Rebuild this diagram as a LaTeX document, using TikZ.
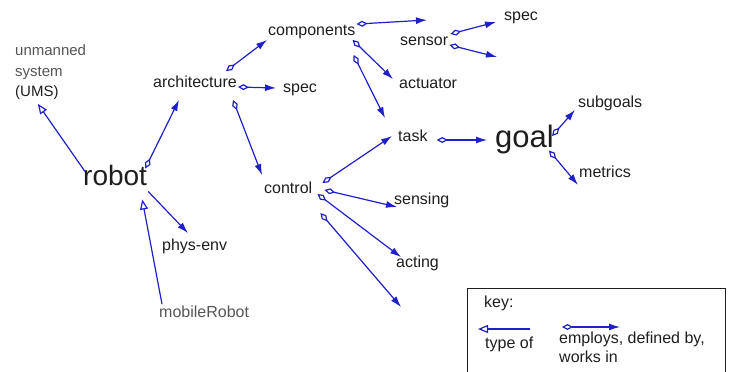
\documentclass[tikz,border=0pt]{standalone}
\usepackage{fontspec}
\setmainfont{Liberation Sans}
\usetikzlibrary{arrows.meta}
\definecolor{cA}{HTML}{2020C8}
\definecolor{cInk}{HTML}{1E1E1E}
\definecolor{cGrey}{HTML}{555555}
\tikzset{
  lbl/.style={anchor=west,inner sep=1pt,text=cInk,font=\fontsize{16}{19}\selectfont,
              text height=12pt,text depth=3.4pt},
  big/.style={lbl,font=\fontsize{28}{32}\selectfont,text height=21pt,text depth=5.6pt},
  rel/.style={draw=cA,line width=1.2pt,
              {Diamond[open,length=11pt,width=6pt]}-{Latex[length=11pt,width=7pt]}},
  uses/.style={draw=cA,line width=1.2pt,-{Latex[length=11pt,width=7pt]}},
  isa/.style={draw=cA,line width=1.2pt,-{Triangle[open,length=10pt,width=8pt]}},
  keyframe/.style={draw=cInk,line width=1pt},
}
\begin{document}
\begin{tikzpicture}[x=1pt,y=-1pt]
  \useasboundingbox (0,0) rectangle (732,372);
  % concepts
  \node[lbl,text=cGrey,font=\fontsize{15}{18}\selectfont] (umsA) at (14,51) {unmanned};
  \node[lbl,text=cGrey,font=\fontsize{15}{18}\selectfont] (umsB) at (14,72) {system};
  \node[lbl,font=\fontsize{15}{18}\selectfont] (ums) at (14,92) {(UMS)};
  \node[big] (robot) at (82,178) {robot};
  \node[lbl] (arch) at (152,83) {architecture};
  \node[lbl] (comp) at (267,31) {components};
  \node[lbl] (archspec) at (282,88) {spec};
  \node[lbl] (sensor) at (399,41) {sensor};
  \node[lbl] (sensspec) at (503,16) {spec};
  \node[lbl] (actuator) at (398,84) {actuator};
  \node[lbl] (task) at (397,137) {task};
  \node[big,font=\fontsize{31}{35}\selectfont] (goal) at (494,140) {goal};
  \node[lbl] (subgoals) at (577,103) {subgoals};
  \node[lbl] (metrics) at (578,173) {metrics};
  \node[lbl] (control) at (263,189) {control};
  \node[lbl] (sensing) at (393,200) {sensing};
  \node[lbl] (physenv) at (161,246) {phys-env};
  \node[lbl] (acting) at (395,263) {acting};
  \node[lbl,text=cGrey] (mobile) at (158,313) {mobileRobot};
  \coordinate (compfree) at (427,20);
  \coordinate (sensfree) at (497,57);
  \coordinate (ctrlfree) at (401,307);
  % relations
  \draw[isa] ([shift={(3,8)}]robot.north west) -- ([shift={(1,3)}]ums.south);
  \draw[rel] ([shift={(-3,5)}]robot.north east) -- ([shift={(27,8)}]arch.south west);
  \draw[uses] ([shift={(0,-1)}]robot.south east) -- ([shift={(27,-4)}]physenv.north west);
  \draw[isa] ([shift={(4,0)}]mobile.north west) -- ([shift={(-6,7)}]robot.south east);
  \draw[rel] ([shift={(-12,-3)}]arch.north east) -- (comp.south west);
  \draw[rel] ([shift={(0,4)}]arch.east) -- ([xshift=-6pt]archspec.west);
  \draw[rel] ([shift={(-5,8)}]arch.south east) -- ([shift={(-1,-5)}]control.north west);
  \draw[rel] ([shift={(0,2)}]comp.north east) -- (compfree);
  \draw[rel] ([shift={(-4,0)}]comp.south east) -- ([shift={(-5,4)}]actuator.north west);
  \draw[rel] ([shift={(-3,15)}]comp.south east) -- ([shift={(-12,-10)}]task.north west);
  \draw[rel] ([shift={(1,-7)}]sensor.east) -- ([shift={(-7,6)}]sensspec.west);
  \draw[rel] ([shift={(0,4)}]sensor.east) -- (sensfree);
  \draw[rel] ([shift={(8,3)}]task.east) -- ([xshift=-7pt]goal.west);
  \draw[rel] ([shift={(-3,-4)}]goal.east) -- ([shift={(-2,-2)}]subgoals.south west);
  \draw[rel] ([shift={(-6,-4)}]goal.south east) -- ([shift={(0,3)}]metrics.south west);
  \draw[rel] ([shift={(9,-6)}]control.east) -- ([shift={(-5,-1)}]task.west);
  \draw[rel] ([shift={(11,1)}]control.east) -- ([shift={(4,7)}]sensing.west);
  \draw[rel] ([shift={(4,5)}]control.east) -- ([shift={(6,3)}]acting.north west);
  \draw[rel] ([shift={(7,24)}]control.east) -- (ctrlfree);
  % key
  \draw[keyframe] (467,288) rectangle (725,374);
  \node[lbl] (key) at (483,303) {key:};
  \coordinate (keyA) at (530,329);
  \coordinate (keyB) at (478,329);
  \draw[isa] (keyA) -- (keyB);
  \coordinate (keyC) at (562,327);
  \coordinate (keyD) at (620,327);
  \draw[rel] (keyC) -- (keyD);
  \node[lbl] (typeof) at (484,344) {type of};
  \node[anchor=north west,inner sep=1pt,align=left,text=cInk,
        font=\fontsize{16}{19}\selectfont] (employs) at (558,331) {employs, defined by,\\works in};
\end{tikzpicture}
\end{document}
